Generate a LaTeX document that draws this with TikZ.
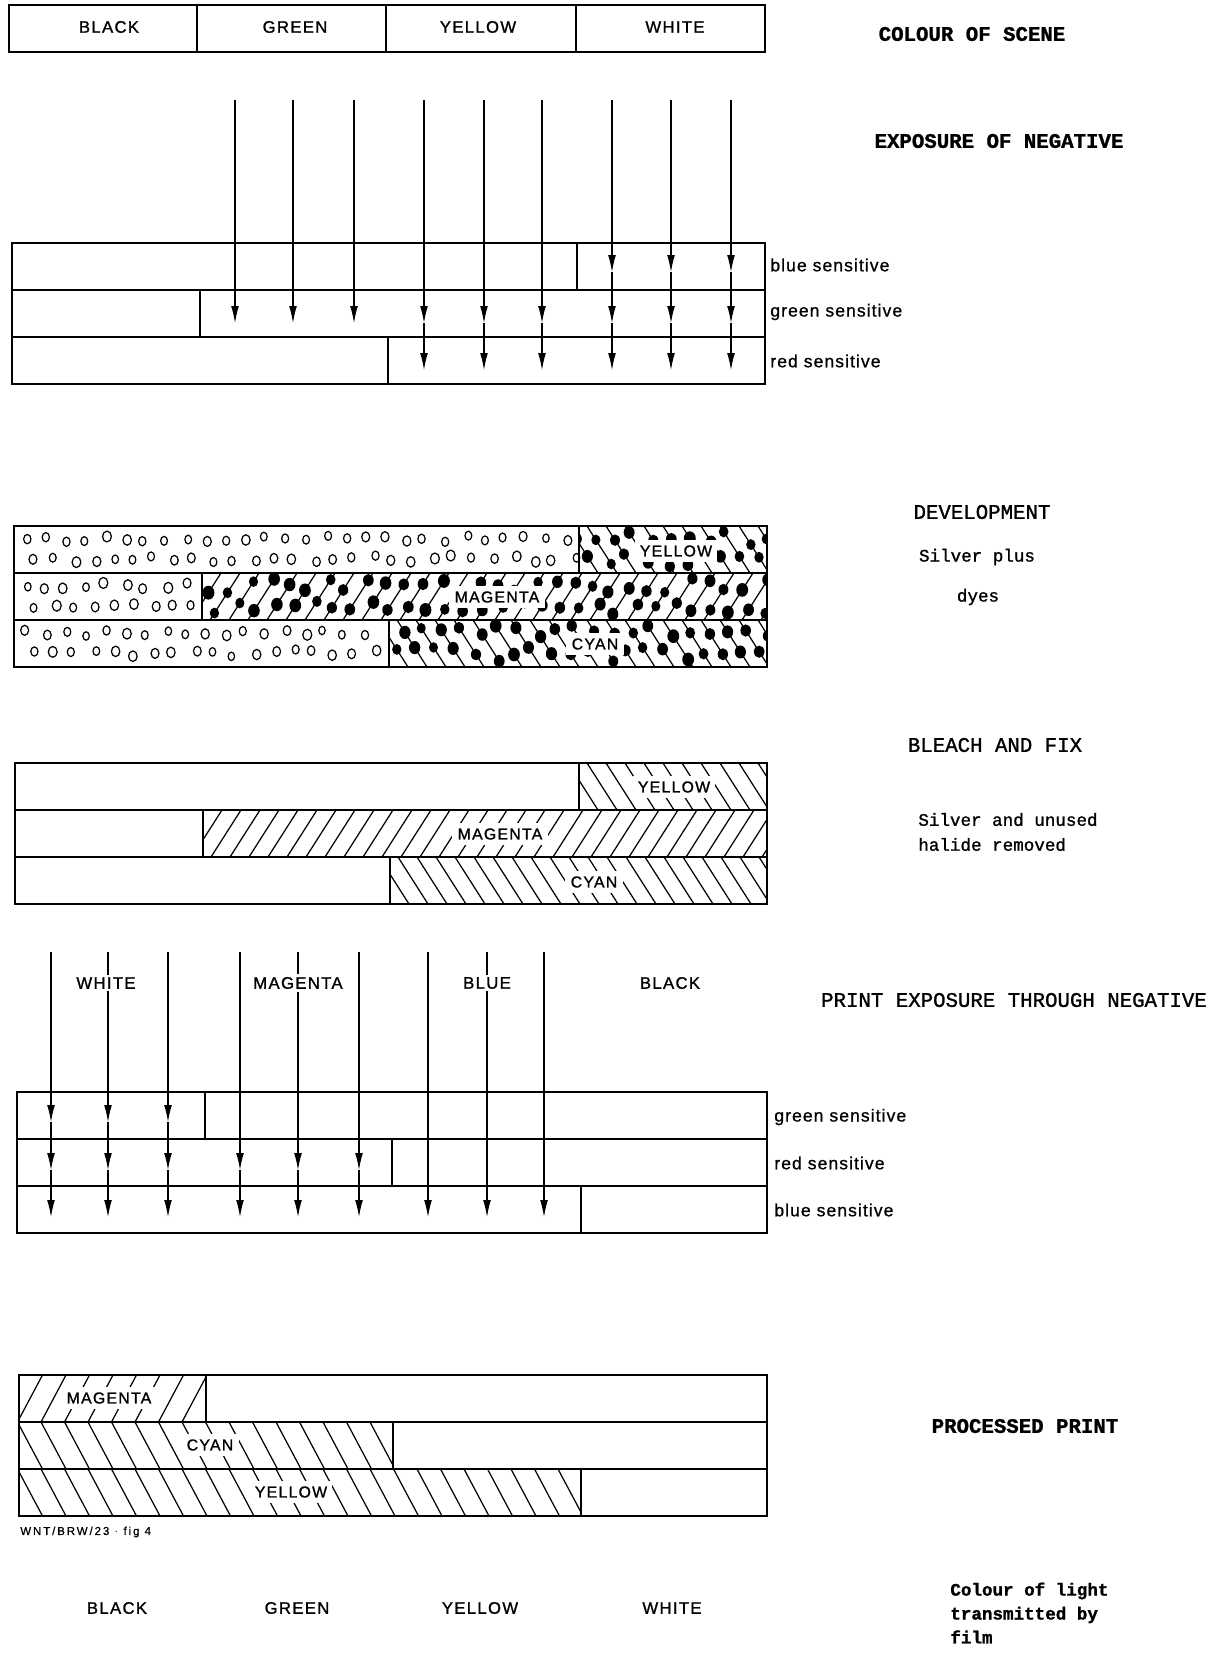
\documentclass[tikz,border=0pt]{standalone}
\usepackage{fontspec}
\setmainfont{Liberation Sans}
\newfontfamily\letterfont[LetterSpace=8,FakeBold=1.2]{Liberation Sans}
\newfontfamily\sensfont[LetterSpace=6,FakeBold=0.8]{Liberation Sans}
\newfontfamily\notefont[LetterSpace=17,FakeBold=0.8]{Liberation Sans}
\newfontfamily\typefont[FakeBold=1.2]{Liberation Mono}
\usetikzlibrary{arrows.meta}

\tikzset{
  layer/.style={line width=0.85pt},
  ray/.style={line width=0.6pt,-{Latex[length=9.6pt,width=4.4pt]}},
  hatch/.style={line width=0.7pt},
  grain/.style={line width=0.7pt},
  dyelabel/.style={font=\letterfont\fontsize{9}{10}\selectfont,fill=white,inner sep=3pt},
  colourlabel/.style={font=\letterfont\fontsize{9.5}{11}\selectfont,inner sep=1.5pt},
  senslabel/.style={anchor=west,inner sep=0pt,font=\sensfont\fontsize{10}{12}\selectfont},
  steplabel/.style={font=\typefont\fontsize{11.8}{14}\selectfont,inner sep=0pt},
  notelabel/.style={font=\typefont\fontsize{10}{14.2}\selectfont,inner sep=0pt,align=left},
}

\begin{document}
\begin{tikzpicture}[x=0.02cm,y=-0.02cm]
	\useasboundingbox (0,0) rectangle (1222,1653);

	% colour of scene
	\draw[layer] (9,5) rectangle (765,52);
	\foreach \x in {197,386,576} \draw[layer] (\x,5) -- (\x,52);
	\node[colourlabel] (sceneBlack) at (109,27) {BLACK};
	\node[colourlabel] (sceneGreen) at (295,27) {GREEN};
	\node[colourlabel] (sceneYellow) at (478,27) {YELLOW};
	\node[colourlabel] (sceneWhite) at (675,27) {WHITE};
	\node[steplabel,font=\typefont\bfseries\fontsize{11.8}{14}\selectfont] (stepScene) at (972,34) {COLOUR OF SCENE};

	% exposure of negative
	\draw[layer] (12,243) rectangle (765,384);
	\draw[layer] (12,290) -- (765,290) (12,337) -- (765,337);
	\draw[layer] (577,243) -- (577,290) (200,290) -- (200,337) (388,337) -- (388,384);
	\foreach \x in {235,293,354} {
		\coordinate (rayTop) at (\x,100);
		\coordinate (tipGreen) at (\x,323);
		\draw[ray] (rayTop) -- (tipGreen);
	}
	\foreach \x in {424,484,542} {
		\coordinate (rayTop) at (\x,100);
		\coordinate (tipGreen) at (\x,323);
		\coordinate (tipRed) at (\x,370);
		\draw[ray] (rayTop) -- (tipGreen);
		\draw[ray] (tipGreen) -- (tipRed);
	}
	\foreach \x in {612,671,731} {
		\coordinate (rayTop) at (\x,100);
		\coordinate (tipBlue) at (\x,272);
		\coordinate (tipGreen) at (\x,323);
		\coordinate (tipRed) at (\x,370);
		\draw[ray] (rayTop) -- (tipBlue);
		\draw[ray] (tipBlue) -- (tipGreen);
		\draw[ray] (tipGreen) -- (tipRed);
	}
	\node[senslabel] (negBlue) at (770,265) {blue sensitive};
	\node[senslabel] (negGreen) at (770,312) {green sensitive};
	\node[senslabel] (negRed) at (770,361) {red sensitive};
	\node[steplabel,font=\typefont\bfseries\fontsize{11.8}{14}\selectfont] (stepExposure) at (999,141) {EXPOSURE OF NEGATIVE};

	% development
	\pgfmathsetseed{11}
	\foreach \xa/\n/\ya in {14/27/526, 14/8/573, 14/17/620} {
		\foreach \i in {0,...,\n} {
			\pgfmathsetmacro{\gx}{\xa+11+20*\i+3.5*rand}
			\pgfmathsetmacro{\gy}{\ya+13+3.5*rand}
			\pgfmathsetmacro{\rx}{3.2+1.3*rnd}
			\pgfmathsetmacro{\ry}{\rx+1}
			\draw[grain] (\gx,\gy) ellipse [x radius=\rx, y radius=\ry];
			\pgfmathsetmacro{\gx}{\xa+20+20*\i+3.5*rand}
			\pgfmathsetmacro{\gy}{\ya+33+3.5*rand}
			\pgfmathsetmacro{\rx}{3.2+1.3*rnd}
			\pgfmathsetmacro{\ry}{\rx+1}
			\draw[grain] (\gx,\gy) ellipse [x radius=\rx, y radius=\ry];
		}
	}
	\foreach \xa/\ya/\s/\v/\n in {579/526/0/47/11, 202/573/47/-47/31, 389/620/0/47/21} {
		\begin{scope}
			\clip (\xa,\ya) rectangle (767,\ya+47);
			\foreach \i in {0,...,\n} {
				\pgfmathsetmacro{\hx}{\xa-30+19*\i}
				\draw[hatch] (\hx,\ya+\s) -- ++(30,\v);
				\pgfmathsetmacro{\ta}{0.12+0.28*rnd}
				\pgfmathsetmacro{\tb}{0.58+0.3*rnd}
				\pgfmathsetmacro{\bs}{0.9+0.3*rnd}
				\fill (\hx+30*\ta,\ya+\s+\v*\ta) ellipse [x radius=5*\bs, y radius=5.8*\bs];
				\fill (\hx+30*\tb,\ya+\s+\v*\tb) ellipse [x radius=5*\bs, y radius=5.8*\bs];
			}
		\end{scope}
	}
	\draw[layer] (14,526) rectangle (767,667);
	\draw[layer] (14,573) -- (767,573) (14,620) -- (767,620);
	\draw[layer] (579,526) -- (579,573) (202,573) -- (202,620) (389,620) -- (389,667);
	\node[dyelabel] (devYellow) at (676,551) {YELLOW};
	\node[dyelabel] (devMagenta) at (497,597) {MAGENTA};
	\node[dyelabel] (devCyan) at (595,644) {CYAN};
	\node[steplabel] (stepDevelop) at (982,512) {DEVELOPMENT};
	\node[notelabel] (noteSilver) at (977,557) {Silver plus};
	\node[notelabel] (noteDyes) at (978,597) {dyes};

	% bleach and fix
	\foreach \xa/\ya/\s/\v/\n in {579/763/0/47/11, 203/810/47/-47/31, 390/857/0/47/21} {
		\begin{scope}
			\clip (\xa,\ya) rectangle (767,\ya+47);
			\foreach \i in {0,...,\n}
				\draw[hatch] (\xa-30+19*\i,\ya+\s) -- ++(30,\v);
		\end{scope}
	}
	\draw[layer] (15,763) rectangle (767,904);
	\draw[layer] (15,810) -- (767,810) (15,857) -- (767,857);
	\draw[layer] (579,763) -- (579,810) (203,810) -- (203,857) (390,857) -- (390,904);
	\node[dyelabel] (bleachYellow) at (674,787) {YELLOW};
	\node[dyelabel] (bleachMagenta) at (500,834) {MAGENTA};
	\node[dyelabel] (bleachCyan) at (594,882) {CYAN};
	\node[steplabel] (stepBleach) at (995,745) {BLEACH AND FIX};
	\node[notelabel,anchor=west] (noteRemoved) at (918,832) {Silver and unused\\halide removed};

	% print exposure through negative
	\draw[layer] (17,1092) rectangle (767,1233);
	\draw[layer] (17,1139) -- (767,1139) (17,1186) -- (767,1186);
	\draw[layer] (205,1092) -- (205,1139) (392,1139) -- (392,1186) (581,1186) -- (581,1233);
	\foreach \x in {51,108,168} {
		\coordinate (rayTop) at (\x,952);
		\coordinate (tipGreen) at (\x,1122);
		\coordinate (tipRed) at (\x,1170);
		\coordinate (tipBlue) at (\x,1217);
		\draw[ray] (rayTop) -- (tipGreen);
		\draw[ray] (tipGreen) -- (tipRed);
		\draw[ray] (tipRed) -- (tipBlue);
	}
	\foreach \x in {240,298,359} {
		\coordinate (rayTop) at (\x,952);
		\coordinate (tipRed) at (\x,1170);
		\coordinate (tipBlue) at (\x,1217);
		\draw[ray] (rayTop) -- (tipRed);
		\draw[ray] (tipRed) -- (tipBlue);
	}
	\foreach \x in {428,487,544} {
		\coordinate (rayTop) at (\x,952);
		\coordinate (tipBlue) at (\x,1217);
		\draw[ray] (rayTop) -- (tipBlue);
	}
	\node[colourlabel,fill=white] (negWhite) at (106,983) {WHITE};
	\node[colourlabel,fill=white] (negMagenta) at (298,983) {MAGENTA};
	\node[colourlabel,fill=white] (negBlueLight) at (487,983) {BLUE};
	\node[colourlabel] (negBlack) at (670,983) {BLACK};
	\node[senslabel] (printGreen) at (774,1117) {green sensitive};
	\node[senslabel] (printRed) at (774,1163) {red sensitive};
	\node[senslabel] (printBlue) at (774,1210) {blue sensitive};
	\node[steplabel] (stepPrint) at (1014,1000) {PRINT EXPOSURE THROUGH NEGATIVE};

	% processed print
	\foreach \xa/\xb/\ya/\s/\v/\n in {19/206/1375/47/-47/9, 19/393/1422/0/47/17, 19/581/1469/0/47/25} {
		\begin{scope}
			\clip (\xa,\ya) rectangle (\xb,\ya+47);
			\foreach \i in {0,...,\n}
				\draw[hatch] (\xa-25+23.5*\i,\ya+\s) -- ++(25,\v);
		\end{scope}
	}
	\draw[layer] (19,1375) rectangle (767,1516);
	\draw[layer] (19,1422) -- (767,1422) (19,1469) -- (767,1469);
	\draw[layer] (206,1375) -- (206,1422) (393,1422) -- (393,1469) (581,1469) -- (581,1516);
	\node[dyelabel] (printMagenta) at (109,1398) {MAGENTA};
	\node[dyelabel] (printCyan) at (210,1445) {CYAN};
	\node[dyelabel] (printYellow) at (291,1492) {YELLOW};
	\node[anchor=west,inner sep=0pt,font=\notefont\fontsize{6.5}{8}\selectfont] (figRef) at (20,1532) {WNT/BRW/23 $\cdot$ fig 4};
	\node[steplabel,font=\typefont\bfseries\fontsize{11.8}{14}\selectfont] (stepProcessed) at (1025,1426) {PROCESSED PRINT};

	% colour of light transmitted
	\node[colourlabel] (filmBlack) at (117,1608) {BLACK};
	\node[colourlabel] (filmGreen) at (297,1608) {GREEN};
	\node[colourlabel] (filmYellow) at (480,1608) {YELLOW};
	\node[colourlabel] (filmWhite) at (672,1608) {WHITE};
	\node[notelabel,anchor=west,font=\typefont\bfseries\fontsize{10}{13.6}\selectfont] (noteLight) at (950,1613) {Colour of light\\transmitted by\\film};
\end{tikzpicture}
\end{document}
